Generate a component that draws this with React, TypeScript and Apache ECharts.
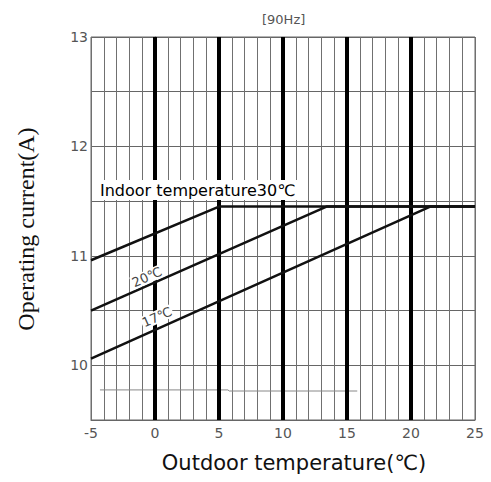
import React, { useEffect, useRef } from 'react';
import * as echarts from 'echarts';

// ---- data ----
const xMin = -5;
const xMax = 25;
const yMin = 9.5;
const yMax = 13;
const xTickLabels = [-5, 0, 5, 10, 15, 20, 25];
const yTickLabels = [10, 11, 12, 13];
const boldX = [0, 5, 10, 15, 20];
const curve30 = [[-5, 10.96], [5, 11.45], [25, 11.45]];
const curve20 = [[-5, 10.5], [13.4, 11.45], [25, 11.45]];
const curve17 = [[-5, 10.06], [21.5, 11.45], [25, 11.45]];
const refLine = [[-4.3, 9.775], [5.7, 9.775], [5.8, 9.765], [15.8, 9.765]];
const curveLabels = ['Indoor temperature30℃', '20℃', '17℃'];
const title = '[90Hz]';
const xTitle = 'Outdoor temperature(℃)';
const yTitle = 'Operating current(A)';

export default function App() {
  const ref = useRef<HTMLDivElement>(null);
  useEffect(() => {
    document.body.style.margin = '0';
    const chart = echarts.init(ref.current!, null, { renderer: 'svg' });
    const sans = 'DejaVu Sans';
    const lineSeries = (name: string, data: number[][]) => ({
      name,
      type: 'line',
      data,
      symbol: 'none',
      z: 5,
      lineStyle: { color: '#111', width: 2.5 },
    });
    chart.setOption({
      animation: false,
      backgroundColor: '#fff',
      grid: { left: 91, right: 16, top: 37, bottom: 62, show: true, borderColor: '#666', borderWidth: 1 },
      xAxis: {
        type: 'value',
        min: xMin,
        max: xMax,
        interval: 1,
        axisLine: { show: true, lineStyle: { color: '#666', width: 1 } },
        axisTick: { show: false },
        splitLine: { show: true, lineStyle: { color: '#707070', width: 1 } },
        axisLabel: {
          showMinLabel: true,
          showMaxLabel: true,
          color: '#555',
          fontFamily: sans,
          fontSize: 14,
          margin: 6,
          formatter: (v: number) => (xTickLabels.includes(v) ? String(v) : ''),
        },
      },
      yAxis: {
        type: 'value',
        min: yMin,
        max: yMax,
        interval: 0.5,
        axisLine: { show: true, lineStyle: { color: '#666', width: 1 } },
        axisTick: { show: false },
        splitLine: { show: true, lineStyle: { color: '#666', width: 1 } },
        axisLabel: {
          color: '#555',
          fontFamily: sans,
          fontSize: 14,
          margin: 3,
          formatter: (v: number) => (yTickLabels.includes(v) ? String(v) : ''),
        },
      },
      series: [
        {
          name: 'bold',
          type: 'line',
          data: [],
          markLine: {
            silent: true,
            symbol: ['none', 'none'],
            label: { show: false },
            lineStyle: { color: '#000', width: 4, type: 'solid' },
            data: boldX.map((x) => ({ xAxis: x })),
          },
          z: 3,
        },
        {
          name: 'ref',
          type: 'line',
          data: refLine,
          symbol: 'none',
          z: 4,
          lineStyle: { color: '#888', width: 1 },
        },
        lineSeries('30', curve30),
        lineSeries('20', curve20),
        lineSeries('17', curve17),
      ],
      graphic: [
        {
          type: 'text',
          left: 262,
          top: 13,
          z: 10,
          style: { text: title, fill: '#555', font: `13px ${sans}` },
        },
        {
          type: 'text',
          x: 97,
          y: 180,
          z: 10,
          style: {
            text: curveLabels[0],
            fill: '#000',
            font: `16px ${sans}`,
            backgroundColor: '#fff',
            padding: [2, 2, 2, 3],
          },
        },
        {
          type: 'text',
          x: 147,
          y: 277,
          rotation: (24 * Math.PI) / 180,
          z: 10,
          style: {
            text: curveLabels[1],
            fill: '#444',
            font: `13px ${sans}`,
            align: 'center',
            verticalAlign: 'middle',
            backgroundColor: '#fff',
            padding: [0, 1],
          },
        },
        {
          type: 'text',
          x: 157,
          y: 317,
          rotation: (24 * Math.PI) / 180,
          z: 10,
          style: {
            text: curveLabels[2],
            fill: '#444',
            font: `13px ${sans}`,
            align: 'center',
            verticalAlign: 'middle',
            backgroundColor: '#fff',
            padding: [0, 1],
          },
        },
        {
          type: 'text',
          x: 294,
          y: 463,
          z: 10,
          style: {
            text: xTitle,
            fill: '#111',
            font: `21px ${sans}`,
            align: 'center',
            verticalAlign: 'middle',
          },
        },
        {
          type: 'text',
          x: 26,
          y: 229,
          rotation: Math.PI / 2,
          z: 10,
          style: {
            text: yTitle,
            fill: '#111',
            font: `24px "Liberation Serif"`,
            align: 'center',
            verticalAlign: 'middle',
          },
        },
      ],
    });
    return () => chart.dispose();
  }, []);
  return <div ref={ref} style={{ width: 491, height: 482 }} />;
}
